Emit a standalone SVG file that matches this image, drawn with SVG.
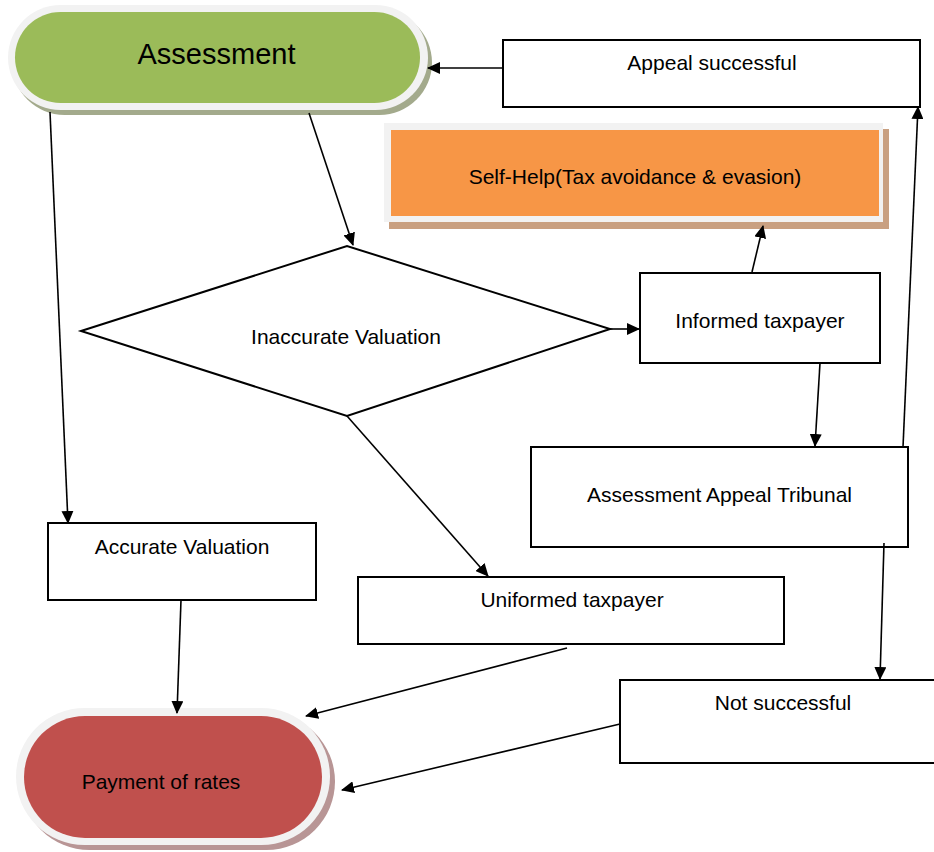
<svg xmlns="http://www.w3.org/2000/svg" width="934" height="852" viewBox="0 0 934 852">
<defs>
<marker id="ah" markerWidth="13" markerHeight="12" refX="12" refY="6" orient="auto" markerUnits="userSpaceOnUse">
<path d="M0,0 L13,6 L0,12 z" fill="#000"/>
</marker>
<style>
.box{fill:#fff;stroke:#000;stroke-width:2}
.t{font-family:"Liberation Sans",Arial,sans-serif;font-size:21px;fill:#000;text-anchor:middle}
.c{fill:none;stroke:#000;stroke-width:1.6;marker-end:url(#ah)}
.rim{fill:#f2f2f2}
</style>
</defs>
<rect width="934" height="852" fill="#fff"/>

<g id="assessment">
<rect x="12" y="10" width="420" height="105" rx="52.5" fill="#a3aa8c"/>
<rect x="8" y="5" width="420" height="105" rx="52.5" class="rim"/>
<rect x="15" y="12" width="405" height="91" rx="45.5" fill="#9bbb59"/>
<text x="216.5" y="64" class="t" style="font-size:29px">Assessment</text>
</g>

<g id="appeal-successful">
<rect x="503" y="40" width="417" height="67" class="box"/>
<text x="712" y="70" class="t">Appeal successful</text>
</g>

<g id="self-help">
<rect x="389" y="129" width="500" height="100" fill="#c9a081"/>
<rect x="384" y="123" width="499" height="99" class="rim"/>
<rect x="391" y="130" width="488" height="86" fill="#f79646"/>
<text x="635" y="184" class="t">Self-Help(Tax avoidance &amp; evasion)</text>
</g>

<g id="inaccurate-valuation">
<polygon points="81,331 347,246 610,329 347,416" class="box"/>
<text x="346" y="344" class="t">Inaccurate Valuation</text>
</g>

<g id="informed-taxpayer">
<rect x="640" y="273" width="240" height="90" class="box"/>
<text x="760" y="328" class="t">Informed taxpayer</text>
</g>

<g id="tribunal">
<rect x="531" y="447" width="377" height="100" class="box"/>
<text x="719.5" y="502" class="t">Assessment Appeal Tribunal</text>
</g>

<g id="accurate-valuation">
<rect x="48" y="523" width="268" height="77" class="box"/>
<text x="182" y="554" class="t">Accurate Valuation</text>
</g>

<g id="uniformed-taxpayer">
<rect x="358" y="577" width="426" height="67" class="box"/>
<text x="572" y="607" class="t">Uniformed taxpayer</text>
</g>

<g id="not-successful">
<rect x="620" y="680" width="320" height="83" class="box"/>
<text x="783" y="710" class="t">Not successful</text>
</g>

<g id="payment">
<rect x="21" y="713" width="314" height="137" rx="68.5" fill="#b89595"/>
<rect x="16" y="708" width="314" height="137" rx="68.5" class="rim"/>
<rect x="24" y="716" width="298" height="122" rx="61" fill="#c0504d"/>
<text x="161" y="789" class="t">Payment of rates</text>
</g>

<g id="connectors">
<line x1="502" y1="68" x2="428" y2="68" class="c"/>
<line x1="50" y1="112" x2="68" y2="523" class="c"/>
<line x1="309" y1="113" x2="353" y2="245" class="c"/>
<line x1="610" y1="329" x2="639" y2="329" class="c"/>
<line x1="752" y1="272" x2="763" y2="226" class="c"/>
<line x1="820" y1="363" x2="815" y2="446" class="c"/>
<line x1="903" y1="447" x2="918" y2="107" class="c"/>
<line x1="884" y1="543" x2="880" y2="679" class="c"/>
<line x1="347" y1="416" x2="488" y2="576" class="c"/>
<line x1="181" y1="600" x2="177" y2="713" class="c"/>
<line x1="567" y1="648" x2="306" y2="716" class="c"/>
<line x1="620" y1="724" x2="342" y2="790" class="c"/>
</g>
</svg>
